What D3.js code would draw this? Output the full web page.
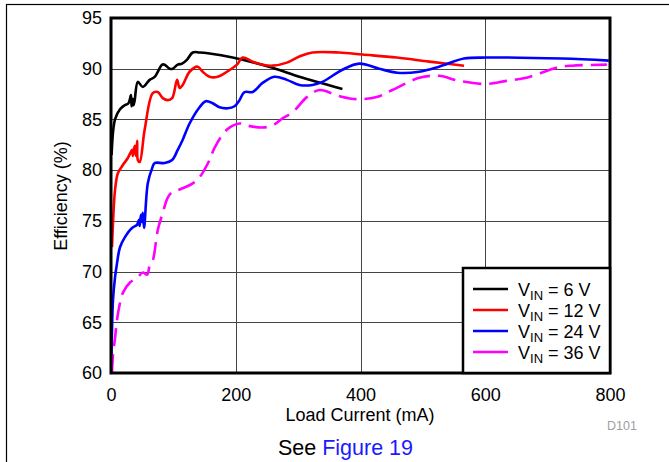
<!DOCTYPE html>
<html><head><meta charset="utf-8">
<script src="https://cdn.jsdelivr.net/npm/d3@7"></script>
<style>
body{margin:0;background:#fff;}
text{font-family:"Liberation Sans",Arial,Helvetica,sans-serif;}
</style></head>
<body><svg id="c" width="669" height="462"></svg>
<script>
const xTicks=[0,200,400,600,800];
const yTicks=[60,65,70,75,80,85,90,95];
const seriesNames=["6 V","12 V","24 V","36 V"];
const seriesColors=["#000000","#ff0000","#0000ff","#ff00ff"];
const vin6=[[1,81.5],[6.4,85],[14.4,86],[22,86.4],[28,86.6],[32,87.4],[33,86.3],[35,87.0],[36,86.4],[38,86.9],[43,88.7],[51,88.2],[62,88.9],[70,89.2],[82,90.4],[86,90.4],[94,90.0],[99,90.0],[107,90.4],[114,90.5],[122,90.9],[131,91.6],[142,91.6],[158,91.5],[195,91.1],[259,90.1],[302,89.2],[371,88.0]];
const vin12=[[1.6,72.4],[3.2,74.8],[6.4,78.0],[11,79.7],[19,80.5],[27,81.2],[34,82.0],[35,81.4],[38,82.4],[40,81.4],[42,82.9],[43,81.0],[46,80.8],[54,84],[67,87.6],[75,87.7],[83,87.1],[91,86.9],[98,87.1],[106,88.9],[110,88.1],[115,88.4],[126,89.7],[139,90.2],[147,89.7],[158,89.2],[171,89.2],[186,89.7],[202,90.4],[211,91.1],[227,90.7],[243,90.4],[259,90.3],[282,90.6],[302,91.2],[323,91.6],[366,91.6],[403,91.4],[458,91.1],[510,90.7],[566,90.3]];
const vin24=[[0.8,61.8],[1.6,64.2],[3.2,67.2],[6.4,69.4],[9.6,70.8],[14.4,72.4],[22.4,73.4],[33.6,74.3],[41.6,74.6],[45,75.1],[46,74.5],[48,75.6],[50,74.9],[51,75.8],[53,74.3],[59,78.7],[66,80.2],[70,80.7],[86,80.7],[98,81.0],[107,82.0],[115,83.0],[126,84.6],[142,86.2],[152,86.8],[163,86.6],[174,86.2],[187,86.1],[198,86.3],[206,86.9],[214,87.7],[227,87.7],[243,88.6],[262,89.2],[282,88.9],[302,88.4],[323,88.4],[339,88.7],[371,89.9],[398,90.5],[430,90.0],[459,89.6],[494,89.7],[526,90.2],[566,91.0],[602,91.1],[723,91.0],[798,90.8]];
const vin36=[[1.6,60.1],[3.2,61.8],[6.4,63.4],[9.6,65.2],[14.4,66.9],[19,67.9],[30,68.9],[42,69.4],[51,69.9],[58,69.7],[62,70.6],[67,71.1],[75,74.1],[83,75.8],[91,77.3],[99,77.9],[110,78.1],[131,78.7],[142,79.3],[158,81.0],[166,82.2],[186,84.0],[206,84.6],[218,84.4],[242,84.2],[259,84.4],[275,85.1],[291,85.7],[314,87.2],[334,87.9],[366,87.3],[394,87.0],[426,87.2],[451,87.9],[494,89.1],[526,89.3],[558,88.8],[602,88.5],[634,88.8],[666,89.1],[714,90.1],[739,90.3],[795,90.4]];
const seriesData=[vin6,vin12,vin24,vin36];

const svg=d3.select("#c");
const L=111,R=610,T=18,B=373;
const x=d3.scaleLinear().domain([0,800]).range([L,R]);
const y=d3.scaleLinear().domain([60,95]).range([B,T]);

// outer frame
svg.append("rect").attr("x",6.5).attr("y",4.5).attr("width",720).attr("height",520)
  .attr("fill","none").attr("stroke","#000").attr("stroke-width",1.2);

// grid
const g=svg.append("g");
g.selectAll(".hg").data(yTicks).enter().append("line")
  .attr("x1",L).attr("x2",R).attr("y1",d=>Math.round(y(d))+0.5).attr("y2",d=>Math.round(y(d))+0.5)
  .attr("stroke","#444").attr("stroke-width",1);
g.selectAll(".vg").data(xTicks).enter().append("line")
  .attr("y1",T).attr("y2",B).attr("x1",d=>Math.round(x(d))+0.5).attr("x2",d=>Math.round(x(d))+0.5)
  .attr("stroke","#444").attr("stroke-width",1);

// axes labels via d3 axes
const xAxis=svg.append("g").attr("transform",`translate(0,${B})`)
  .call(d3.axisBottom(x).tickValues(xTicks).tickSize(0).tickPadding(15));
xAxis.select(".domain").remove();
xAxis.selectAll("text").attr("font-size",18).attr("fill","#000").attr("font-family","Liberation Sans,Arial,sans-serif");
const yAxis=svg.append("g").attr("transform",`translate(${L},0)`)
  .call(d3.axisLeft(y).tickValues(yTicks).tickSize(0).tickPadding(9));
yAxis.select(".domain").remove();
yAxis.selectAll("text").attr("font-size",18).attr("fill","#000").attr("font-family","Liberation Sans,Arial,sans-serif");

// curves
svg.append("clipPath").attr("id","pc").append("rect").attr("x",L).attr("y",T).attr("width",R-L).attr("height",B-T);
const line=d3.line().x(d=>x(d[0])).y(d=>y(d[1])).curve(d3.curveCatmullRom.alpha(0.5));
seriesData.forEach((s,i)=>{
  svg.append("path").attr("d",line(s)).attr("fill","none")
    .attr("stroke",seriesColors[i]).attr("stroke-width",2.6)
    .attr("stroke-linejoin","round")
    .attr("clip-path","url(#pc)")
    .attr("stroke-dasharray",i===3?"18,8":null);
});

// plot border
svg.append("rect").attr("x",L).attr("y",T).attr("width",R-L).attr("height",B-T)
  .attr("fill","none").attr("stroke","#000").attr("stroke-width",3);

// legend
const lg=svg.append("g");
lg.append("rect").attr("x",463).attr("y",268).attr("width",R-463).attr("height",B-268)
  .attr("fill","#fff").attr("stroke","#000").attr("stroke-width",2.5);
seriesNames.forEach((n,i)=>{
  const yy=289+i*21;
  lg.append("line").attr("x1",473).attr("x2",508).attr("y1",yy).attr("y2",yy)
    .attr("stroke",seriesColors[i]).attr("stroke-width",2.6);
  const t=lg.append("text").attr("x",518).attr("y",yy+7).attr("font-size",18).attr("fill","#000");
  t.append("tspan").text("V");
  t.append("tspan").attr("font-size",13).attr("dy",4).text("IN");
  t.append("tspan").attr("dy",-4).text(" = "+n);
});

// titles
svg.append("text").attr("x",360).attr("y",421).attr("text-anchor","middle").attr("font-size",18).text("Load Current (mA)");
svg.append("text").attr("transform","translate(67,196) rotate(-90)").attr("text-anchor","middle").attr("font-size",18).text("Efficiency (%)");
svg.append("text").attr("x",622).attr("y",430).attr("text-anchor","middle").attr("font-size",12.5).attr("fill","#a0a0a0").text("D101");
const st=svg.append("text").attr("x",345.5).attr("y",455).attr("text-anchor","middle").attr("font-size",21.5);
st.append("tspan").attr("fill","#000").text("See ");
st.append("tspan").attr("fill","#1a1aff").text("Figure 19");
</script></body></html>
